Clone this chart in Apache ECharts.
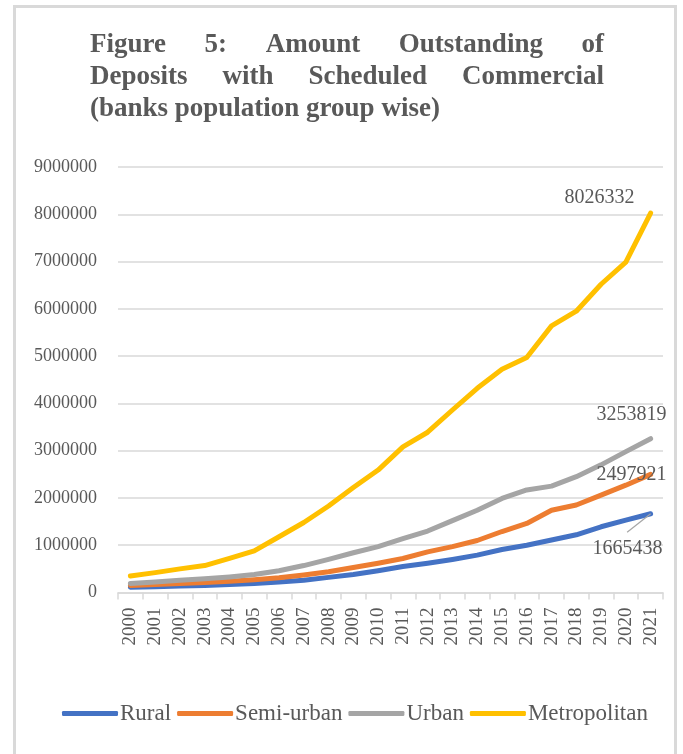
<!DOCTYPE html>
<html>
<head>
<meta charset="utf-8">
<script src="https://cdn.jsdelivr.net/npm/echarts@6/dist/echarts.min.js"></script>
<style>
  html, body { margin: 0; padding: 0; background: #fff; }
  #chart { width: 683px; height: 754px; }
</style>
</head>
<body>
<div id="chart"></div>
<script>
// Deposits outstanding with scheduled commercial banks, by population group
const years = ['2000','2001','2002','2003','2004','2005','2006','2007','2008','2009','2010',
               '2011','2012','2013','2014','2015','2016','2017','2018','2019','2020','2021'];
const rural = [110000,120000,140000,150000,170000,190000,220000,260000,320000,380000,460000,
               550000,620000,700000,790000,910000,1000000,1110000,1220000,1390000,1530000,1665438];
const semiUrban = [150000,170000,190000,210000,240000,270000,310000,370000,440000,530000,620000,
                   720000,860000,970000,1100000,1290000,1460000,1740000,1850000,2060000,2270000,2497921];
const urban = [190000,220000,260000,290000,330000,380000,460000,570000,700000,840000,970000,
               1140000,1300000,1520000,1740000,1990000,2170000,2250000,2450000,2700000,2980000,3253819];
const metropolitan = [350000,420000,500000,570000,720000,880000,1180000,1480000,1830000,2220000,2590000,
                      3080000,3390000,3860000,4320000,4720000,4970000,5640000,5950000,6520000,6990000,8026332];
const yTicks = { min: 0, max: 9000000, step: 1000000 };

const titleLines = [
  ['Figure', '5:', 'Amount', 'Outstanding', 'of'],
  ['Deposits', 'with', 'Scheduled', 'Commercial'],
  ['(banks population group wise)']
];

const FONT = '"Liberation Serif", "Times New Roman", serif';
const TEXT = '#595959';

const chart = echarts.init(document.getElementById('chart'), null, { renderer: 'canvas' });

// Justified title: first word flush left, last word flush right, even gaps between
const measure = document.createElement('canvas').getContext('2d');
const titleFontSize = 27;
measure.font = 'bold ' + titleFontSize + 'px ' + FONT;
const tLeft = 90, tRight = 604, tLineY = [48, 80, 112];
const titleGraphics = [];
titleLines.forEach((words, li) => {
  const widths = words.map(w => measure.measureText(w).width);
  const total = widths.reduce((a, b) => a + b, 0);
  const gap = words.length > 1 && li < titleLines.length - 1
    ? (tRight - tLeft - total) / (words.length - 1) : 0;
  let x = tLeft;
  words.forEach((w, i) => {
    titleGraphics.push({
      type: 'text', left: x, top: tLineY[li] - titleFontSize * 0.6,
      style: { text: w, font: 'bold ' + titleFontSize + 'px ' + FONT, fill: TEXT }
    });
    x += widths[i] + gap;
  });
});

const last = years.length - 1;
function endLabelled(values, offset) {
  return values.map((v, i) => i === last ? {
    value: v,
    label: { show: true, position: 'inside', offset: offset, formatter: String(v),
             fontFamily: FONT, fontSize: 20, color: TEXT }
  } : v);
}

function lineSeries(name, color, values, offset) {
  return {
    name: name, type: 'line', data: endLabelled(values, offset),
    symbol: 'circle', symbolSize: 0.01, showSymbol: true,
    itemStyle: { color: color },
    lineStyle: { color: color, width: 5, cap: 'round', join: 'round' },
    emphasis: { disabled: true },
    animation: false
  };
}

const frame = { type: 'rect', shape: { x: 14.5, y: 6.5, width: 661, height: 780 },
  style: { fill: 'none', stroke: '#D9D9D9', lineWidth: 3 }, silent: true };

chart.setOption({
  animation: false,
  textStyle: { fontFamily: FONT },
  grid: { left: 118, right: 20, top: 167, bottom: 161.5, containLabel: false },
  legend: {
    left: 62, top: 702, padding: 0, icon: 'roundRect', itemWidth: 56, itemHeight: 5, itemGap: 6,
    textStyle: { fontFamily: FONT, fontSize: 23, color: TEXT, padding: [0, 0, 0, -3] },
    data: ['Rural', 'Semi-urban', 'Urban', 'Metropolitan']
  },
  xAxis: {
    type: 'category', data: years, boundaryGap: true,
    axisLine: { lineStyle: { color: '#D9D9D9', width: 1.5 } },
    axisTick: { show: true, length: 7, lineStyle: { color: '#D9D9D9', width: 1.5 } },
    axisLabel: { rotate: 90, interval: 0, margin: 15, fontFamily: FONT, fontSize: 19, color: TEXT }
  },
  yAxis: {
    type: 'value', min: yTicks.min, max: yTicks.max, interval: yTicks.step,
    axisLine: { show: false }, axisTick: { show: false },
    splitLine: { lineStyle: { color: '#D9D9D9', width: 1.5 } },
    axisLabel: { margin: 21, fontFamily: FONT, fontSize: 18, color: TEXT,
                 formatter: v => String(v) }
  },
  graphic: [frame].concat(titleGraphics),
  series: [
    lineSeries('Rural', '#4472C4', rural, [-23, 35]),
    lineSeries('Semi-urban', '#ED7D31', semiUrban, [-19, 0]),
    lineSeries('Urban', '#A5A5A5', urban, [-19, -24]),
    lineSeries('Metropolitan', '#FFC000', metropolitan, [-51, -15])
  ]
});

// Leader line from the rural end label back to its point
const p = chart.convertToPixel({ gridIndex: 0 }, [last, rural[last]]);
chart.setOption({
  graphic: [frame].concat(titleGraphics).concat([
    { type: 'line', shape: { x1: p[0] - 23.5, y1: p[1] + 18.5, x2: p[0], y2: p[1] },
      style: { stroke: '#A6A6A6', lineWidth: 1.2 }, silent: true, z: 10 }
  ])
});
</script>
</body>
</html>
